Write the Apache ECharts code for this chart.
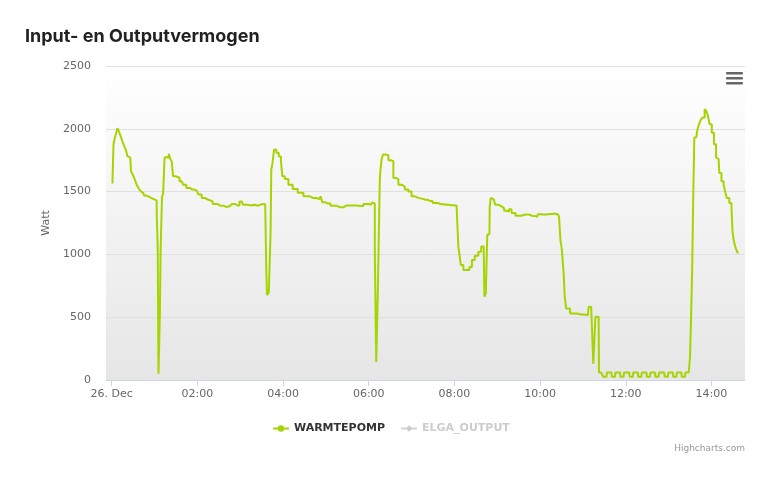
<!DOCTYPE html>
<html>
<head>
<meta charset="utf-8">
<script src="https://cdn.jsdelivr.net/npm/echarts@6/dist/echarts.min.js"></script>
<style>
html,body{margin:0;padding:0;background:#fff;}
#chart{width:771px;height:481px;}
</style>
</head>
<body>
<div id="chart"></div>
<script>
// Minutes since 26 Dec 00:00
const timeMin = [1,2,3,5,7,9,11,14,16,19,21,23,26,28,30,33,35,37,40,42,44,47,50,54,57,61,62,64,65,66,67,68,69,70,71,73,75,77,79,81,83,85,87,92,98,102,107,113,119,124,128,133,138,145,152,161,166,170,176,182,186,194,200,205,210,215,216,217,218,222,223,224,226,229,232,236,238,240,245,250,257,264,273,282,291,294,296,303,310,320,329,338,348,357,363,367,368,369,370,371,372,373,375,376,377,379,381,386,389,393,396,399,404,408,413,418,422,427,432,439,446,453,461,469,476,483,485,486,488,490,495,499,503,506,511,516,519,521,523,525,527,529,530,532,535,539,544,548,551,555,558,562,569,579,590,596,598,604,614,620,625,628,629,632,634,635,638,646,657,667,669,674,675,677,678,682,683,688,689,693,694,700,701,705,706,712,713,717,718,725,726,730,731,737,738,742,743,749,750,754,755,761,762,766,767,774,775,779,780,786,787,791,792,798,799,803,804,808,809,811,812,814,815,817,819,821,824,826,829,832,834,836,839,842,845,848,850,852,856,858,860,863,867,869,870,873,875,878];
const warmtepomp = [1564,1564,1876,1920,1960,2004,1980,1942,1900,1862,1830,1782,1770,1662,1640,1609,1570,1542,1520,1502,1490,1468,1460,1449,1440,1436,1430,1329,1036,50,50,530,1036,1040,1462,1480,1770,1775,1770,1802,1760,1742,1622,1610,1582,1555,1529,1516,1508,1476,1449,1435,1422,1401,1388,1377,1385,1401,1390,1422,1395,1392,1395,1388,1400,1401,1395,876,676,697,1169,1676,1720,1836,1810,1780,1742,1622,1600,1555,1520,1490,1462,1449,1440,1462,1415,1405,1388,1375,1390,1390,1385,1401,1395,1415,1405,1022,1022,143,143,636,636,1596,1676,1756,1796,1790,1750,1742,1609,1600,1555,1540,1516,1500,1462,1450,1442,1435,1425,1409,1400,1396,1392,1388,1385,1062,1000,916,876,876,900,956,990,1022,1062,1062,663,690,1156,1160,1382,1449,1440,1396,1382,1369,1348,1342,1360,1329,1308,1318,1305,1300,1320,1318,1321,1325,1318,1300,1116,1036,849,663,569,529,522,516,583,570,130,130,503,503,60,60,25,25,60,60,25,25,60,60,25,25,60,60,25,25,60,60,25,25,60,60,25,25,60,60,25,25,60,60,25,25,60,60,25,25,60,60,25,25,60,60,80,183,503,876,1449,1929,1935,1983,2036,2071,2089,2156,2140,2103,2036,1969,1876,1770,1760,1649,1582,1560,1502,1449,1409,1382,1182,1102,1049,1014];
const elgaOutput = [];
const xTickValues = [0,120,240,360,480,600,720,840];
const xTickLabels = ['26. Dec','02:00','04:00','06:00','08:00','10:00','12:00','14:00'];

const chart = echarts.init(document.getElementById('chart'), null, {renderer:'canvas'});
const seriesData = timeMin.map((t,i)=>[t, warmtepomp[i]]);
const labelFont = 'DejaVu Sans, Verdana, sans-serif';

chart.setOption({
  animation:false,
  backgroundColor:'#ffffff',
  title:{
    text:'Input- en Outputvermogen',
    left:25, top:28, padding:0,
    textStyle:{fontFamily:'Inter, sans-serif', fontWeight:'bold', fontSize:18, color:'#222'}
  },
  grid:{
    left:106, right:26, top:66, bottom:101,
    show:true, borderWidth:0,
    backgroundColor:new echarts.graphic.LinearGradient(0,0,0,1,[{offset:0,color:'#ffffff'},{offset:1,color:'#e6e6e6'}])
  },
  legend:{
    bottom:47, left:272, padding:0,
    itemWidth:16, itemHeight:8, itemGap:15,
    selected:{ 'ELGA_OUTPUT':false },
    inactiveColor:'#cccccc',
    textStyle:{fontFamily:labelFont, fontWeight:'bold', fontSize:11, color:'#333333', padding:[0,0,0,0]},
    data:['WARMTEPOMP','ELGA_OUTPUT']
  },
  xAxis:{
    type:'value', min:-8, max:887,
    axisLine:{show:true, lineStyle:{color:'#ccd6eb'}},
    axisTick:{show:true, customValues:xTickValues, length:6, lineStyle:{color:'#ccd6eb'}},
    axisLabel:{
      customValues:xTickValues,
      formatter:(v)=>{const i=xTickValues.indexOf(v); return i>=0?xTickLabels[i]:'';},
      color:'#666666', fontFamily:labelFont, fontSize:11, margin:9
    },
    splitLine:{show:false}
  },
  yAxis:{
    type:'value', min:0, max:2500, interval:500,
    name:'Watt', nameLocation:'middle', nameGap:54, nameRotate:90,
    nameTextStyle:{color:'#666666', fontFamily:labelFont, fontSize:11},
    axisLine:{show:false}, axisTick:{show:false},
    axisLabel:{color:'#666666', fontFamily:labelFont, fontSize:11, margin:15, formatter:(v)=>String(v)},
    splitLine:{lineStyle:{color:'#e0e0e0'}}
  },
  series:[
    {name:'WARMTEPOMP', type:'line', data:seriesData, showSymbol:false, symbol:'circle', symbolSize:8,
     step:'middle',
     color:'#a6d400', lineStyle:{width:2, color:'#a6d400'}},
    {name:'ELGA_OUTPUT', type:'line', data:elgaOutput, showSymbol:false, symbol:'diamond', symbolSize:8,
     color:'#cccccc', lineStyle:{width:2}}
  ],
  graphic:[
    {type:'rect', shape:{x:726,y:72,width:17,height:2.5,r:1}, style:{fill:'#666666'}},
    {type:'rect', shape:{x:726,y:77,width:17,height:2.5,r:1}, style:{fill:'#666666'}},
    {type:'rect', shape:{x:726,y:82,width:17,height:2.5,r:1}, style:{fill:'#666666'}},
    {type:'text', right:26, top:444, style:{text:'Highcharts.com', fill:'#999999', font:'9px '+labelFont, textAlign:'right'}}
  ]
});
</script>
</body>
</html>
